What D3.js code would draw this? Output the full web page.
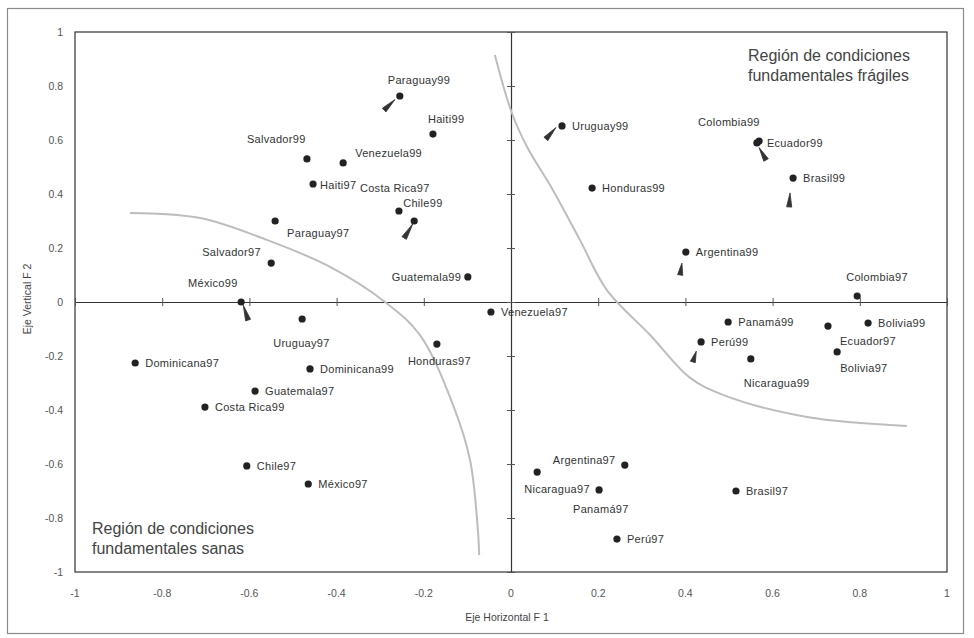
<!DOCTYPE html>
<html>
<head>
<meta charset="utf-8">
<script src="https://cdn.jsdelivr.net/npm/d3@7"></script>
<style>
  html, body { margin: 0; padding: 0; background: #fff; }
  svg { display: block; font-family: "Liberation Sans", Arial, sans-serif; }
</style>
</head>
<body>
<svg id="chart" width="974" height="638"></svg>
<script>
// Country/year observations on the first two factor axes
const names = ["Paraguay99","Haiti99","Venezuela99","Salvador99","Haiti97","Costa Rica97","Chile99",
  "Paraguay97","Salvador97","México99","Guatemala99","Uruguay97","Venezuela97","Honduras97",
  "Dominicana97","Dominicana99","Guatemala97","Costa Rica99","Chile97","México97",
  "Uruguay99","Honduras99","Colombia99","Ecuador99","Brasil99","Argentina99","Colombia97",
  "Panamá99","Perú99","Nicaragua99","Ecuador97","Bolivia99","Bolivia97","Brasil97","Perú97",
  "Argentina97","Nicaragua97","Panamá97"];
const f1 = [-0.255,-0.179,-0.385,-0.468,-0.454,-0.257,-0.222,
  -0.541,-0.550,-0.619,-0.099,-0.479,-0.046,-0.170,
  -0.862,-0.461,-0.587,-0.702,-0.606,-0.465,
  0.117,0.186,0.569,0.564,0.647,0.401,0.794,
  0.498,0.436,0.550,0.727,0.819,0.748,0.516,0.243,
  0.261,0.060,0.202];
const f2 = [0.763,0.622,0.515,0.530,0.437,0.337,0.300,
  0.300,0.144,0.000,0.093,-0.063,-0.037,-0.156,
  -0.226,-0.248,-0.330,-0.389,-0.607,-0.674,
  0.652,0.422,0.596,0.589,0.459,0.185,0.022,
  -0.074,-0.148,-0.211,-0.089,-0.078,-0.185,-0.700,-0.878,
  -0.604,-0.630,-0.696];

// Movement arrows (tail -> head) in factor coordinates
const arrowTailX = [-0.266, 0.103, -0.225, -0.614, 0.569, 0.640, 0.392, 0.425];
const arrowTailY = [0.750, 0.646, 0.290, -0.012, 0.572, 0.404, 0.144, -0.182];
const arrowHeadX = [-0.291, 0.080, -0.245, -0.603, 0.585, 0.638, 0.388, 0.417];
const arrowHeadY = [0.711, 0.604, 0.237, -0.067, 0.526, 0.352, 0.100, -0.222];

// Region boundaries
const boundarySanaX = [-0.874,-0.713,-0.560,-0.415,-0.289,-0.209,-0.133,-0.094,-0.076,-0.073];
const boundarySanaY = [0.330,0.311,0.230,0.130,0.000,-0.122,-0.381,-0.585,-0.844,-0.937];
const boundaryFragilX = [-0.037,0.002,0.037,0.096,0.158,0.220,0.319,0.411,0.486,0.679,0.908];
const boundaryFragilY = [0.915,0.700,0.574,0.415,0.230,0.044,-0.122,-0.281,-0.344,-0.426,-0.459];

const tickValues = [-1,-0.8,-0.6,-0.4,-0.2,0,0.2,0.4,0.6,0.8,1];
const tickLabels = ["-1","-0.8","-0.6","-0.4","-0.2","0","0.2","0.4","0.6","0.8","1"];

// Label placement: offset of the text start / vertical centre from the dot
const labelOffset = {
  "Paraguay99":[-12,-16], "Haiti99":[-5,-15], "Venezuela99":[12,-10], "Salvador99":[-60,-20],
  "Haiti97":[7,1], "Costa Rica97":[-39,-23], "Chile99":[-11,-18], "Paraguay97":[12,12],
  "Salvador97":[-69,-11], "México99":[-53,-19], "Guatemala99":[-76,0], "Uruguay97":[-29,24],
  "Honduras97":[-29,17], "Colombia99":[-61,-19], "Colombia97":[-11,-19], "Nicaragua99":[-7,24],
  "Ecuador97":[12,15], "Bolivia97":[3,16], "Argentina97":[-72,-5], "Nicaragua97":[-13,17],
  "Panamá97":[-26,19]
};

const svg = d3.select("#chart");
const x = d3.scaleLinear().domain([-1, 1]).range([75, 947]);
const y = d3.scaleLinear().domain([-1, 1]).range([572, 32]);

// outer frame
svg.append("rect").attr("x", 7.5).attr("y", 8.5).attr("width", 956).attr("height", 625)
  .attr("fill", "none").attr("stroke", "#8a8a8a").attr("stroke-width", 1.2);

// plot box
svg.append("rect").attr("x", x(-1)).attr("y", y(1)).attr("width", x(1) - x(-1)).attr("height", y(-1) - y(1))
  .attr("fill", "none").attr("stroke", "#333").attr("stroke-width", 1.2);

// central axes with cross ticks
const xAxis = d3.axisBottom(x).tickValues(tickValues).tickSizeInner(0).tickSizeOuter(0).tickFormat("");
const yAxis = d3.axisLeft(y).tickValues(tickValues).tickSizeInner(0).tickSizeOuter(0).tickFormat("");
svg.append("g").attr("transform", `translate(0,${y(0)})`).call(xAxis)
  .call(g => g.select(".domain").attr("stroke", "#333").attr("stroke-width", 1.2))
  .call(g => g.selectAll(".tick line").attr("y1", -4).attr("y2", 4).attr("stroke", "#555"));
svg.append("g").attr("transform", `translate(${x(0)},0)`).call(yAxis)
  .call(g => g.select(".domain").attr("stroke", "#333").attr("stroke-width", 1.2))
  .call(g => g.selectAll(".tick line").attr("x1", -4).attr("x2", 4).attr("stroke", "#555"));

// tick labels along plot box edges
svg.append("g").selectAll("text").data(tickValues).join("text")
  .attr("x", d => x(d)).attr("y", 597).attr("text-anchor", "middle")
  .attr("font-size", 10.5).attr("fill", "#555")
  .text((d, i) => tickLabels[i]);
svg.append("g").selectAll("text").data(tickValues).join("text")
  .attr("x", 63).attr("y", d => y(d) + 4).attr("text-anchor", "end")
  .attr("font-size", 10.5).attr("fill", "#555")
  .text((d, i) => tickLabels[i]);

// axis titles
svg.append("text").attr("x", 507).attr("y", 621).attr("text-anchor", "middle")
  .attr("font-size", 10.5).attr("fill", "#444").text("Eje Horizontal F 1");
svg.append("text").attr("transform", "translate(31,299) rotate(-90)").attr("text-anchor", "middle")
  .attr("font-size", 10.5).attr("fill", "#444").text("Eje Vertical F 2");

// region boundaries
const line = d3.line().x(d => x(d[0])).y(d => y(d[1])).curve(d3.curveCatmullRom);
svg.append("path").datum(boundarySanaX.map((v, i) => [v, boundarySanaY[i]]))
  .attr("d", line).attr("fill", "none").attr("stroke", "#bdbdbd").attr("stroke-width", 2);
svg.append("path").datum(boundaryFragilX.map((v, i) => [v, boundaryFragilY[i]]))
  .attr("d", line).attr("fill", "none").attr("stroke", "#bdbdbd").attr("stroke-width", 2);

// region captions
const cap1 = svg.append("text").attr("font-size", 16).attr("fill", "#444");
cap1.append("tspan").attr("x", 748).attr("y", 61).text("Región de  condiciones");
cap1.append("tspan").attr("x", 748).attr("y", 81).text("fundamentales frágiles");
const cap2 = svg.append("text").attr("font-size", 16).attr("fill", "#444");
cap2.append("tspan").attr("x", 92).attr("y", 534).text("Región de condiciones");
cap2.append("tspan").attr("x", 92).attr("y", 554).text("fundamentales sanas");

// movement arrows: tapered wedge from tail to a broad head
const wedge = (i) => {
  const x0 = x(arrowTailX[i]), y0 = y(arrowTailY[i]);
  const x1 = x(arrowHeadX[i]), y1 = y(arrowHeadY[i]);
  const dx = x1 - x0, dy = y1 - y0, len = Math.hypot(dx, dy);
  const nx = -dy / len, ny = dx / len, w = 2.6;
  return `M${x0},${y0}L${x1 + nx * w},${y1 + ny * w}L${x1 - nx * w},${y1 - ny * w}Z`;
};
svg.append("g").selectAll("path").data(arrowTailX).join("path")
  .attr("d", (d, i) => wedge(i)).attr("fill", "#333").attr("stroke", "#333").attr("stroke-width", 0.8);

// observations
const pts = names.map((n, i) => ({ name: n, fx: f1[i], fy: f2[i] }));
svg.append("g").selectAll("text").data(pts).join("text")
  .attr("x", d => x(d.fx) + (labelOffset[d.name] ? labelOffset[d.name][0] : 10))
  .attr("y", d => y(d.fy) + (labelOffset[d.name] ? labelOffset[d.name][1] : 0) + 4)
  .attr("font-size", 11).attr("letter-spacing", 0.3).attr("fill", "#333")
  .text(d => d.name);
svg.append("g").selectAll("circle").data(pts).join("circle")
  .attr("cx", d => x(d.fx)).attr("cy", d => y(d.fy)).attr("r", 3.6).attr("fill", "#222");
</script>
</body>
</html>
